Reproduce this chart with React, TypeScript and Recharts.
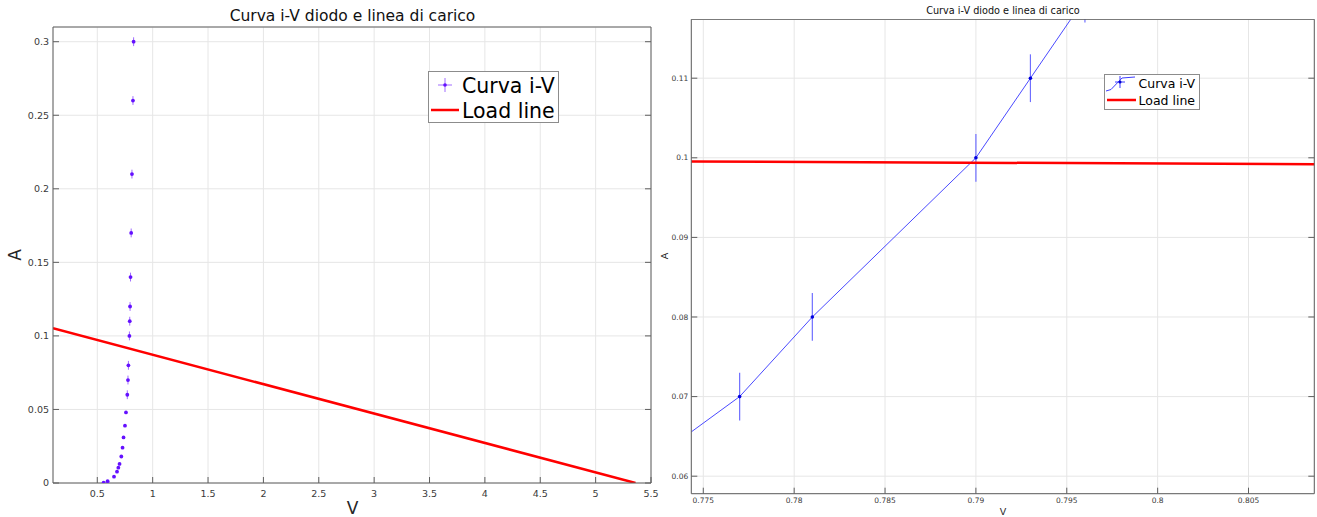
import React from "react";
import {
  ComposedChart,
  Scatter,
  Line,
  XAxis,
  YAxis,
  CartesianGrid,
  ErrorBar,
  Legend,
} from "recharts";

// measured diode points (V, A) and their current uncertainty
const ivVoltage = [
  0.557, 0.593, 0.651, 0.678, 0.69, 0.701, 0.717, 0.728, 0.737, 0.75, 0.759,
  0.771, 0.777, 0.781, 0.79, 0.793, 0.796, 0.8, 0.806, 0.813, 0.822, 0.828,
];
const ivCurrent = [
  0.0002, 0.0012, 0.0043, 0.0077, 0.0104, 0.013, 0.018, 0.024, 0.031, 0.039,
  0.048, 0.06, 0.07, 0.08, 0.1, 0.11, 0.12, 0.14, 0.17, 0.21, 0.26, 0.3,
];
const ivError = [
  0.0003, 0.0003, 0.0003, 0.0003, 0.0003, 0.0003, 0.0003, 0.0003, 0.0003,
  0.0003, 0.0003, 0.003, 0.003, 0.003, 0.003, 0.003, 0.003, 0.003, 0.003,
  0.003, 0.003, 0.003,
];

// load lines (two end points each)
const loadLeftVoltage = [0.1, 5.36];
const loadLeftCurrent = [0.1052, 0];
const loadRightVoltage = [0.7743, 0.8087];
const loadRightCurrent = [0.09954, 0.0992];

const leftXTicks = [0.5, 1, 1.5, 2, 2.5, 3, 3.5, 4, 4.5, 5, 5.5];
const leftYTicks = [0, 0.05, 0.1, 0.15, 0.2, 0.25, 0.3];
const rightXTicks = [0.775, 0.78, 0.785, 0.79, 0.795, 0.8, 0.805];
const rightYTicks = [0.06, 0.07, 0.08, 0.09, 0.1, 0.11];

const title = "Curva i-V diodo e linea di carico";
const seriesNames = ["Curva i-V", "Load line"];

const ivData = ivVoltage.map((v, i) => ({ v, a: ivCurrent[i], err: ivError[i] }));
const loadLeft = loadLeftVoltage.map((v, i) => ({ v, a: loadLeftCurrent[i] }));
const loadRight = loadRightVoltage.map((v, i) => ({ v, a: loadRightCurrent[i] }));

const FONT = "'DejaVu Sans', sans-serif";
const FRAME = "#5f5f5f";
const GRID = "#e6e6e6";
const LABEL = "#3a3a3a";
const TICK_LEN = 6;

function makeTick(side: string, fontSize: number, gap: number) {
  return (props: any) => {
    const { x, y, payload } = props;
    const label = String(payload.value);
    if (side === "bottom")
      return (
        <g>
          <line x1={x} x2={x} y1={y} y2={y - TICK_LEN} stroke={FRAME} />
          <text x={x} y={y + gap} textAnchor="middle" fontSize={fontSize} fontFamily={FONT} fill={LABEL}>
            {label}
          </text>
        </g>
      );
    if (side === "top") return <line x1={x} x2={x} y1={y} y2={y + TICK_LEN} stroke={FRAME} />;
    if (side === "left")
      return (
        <g>
          <line x1={x} x2={x + TICK_LEN} y1={y} y2={y} stroke={FRAME} />
          <text x={x - gap} y={y + fontSize * 0.36} textAnchor="end" fontSize={fontSize} fontFamily={FONT} fill={LABEL}>
            {label}
          </text>
        </g>
      );
    return <line x1={x} x2={x - TICK_LEN} y1={y} y2={y} stroke={FRAME} />;
  };
}

function LeftLegend() {
  return (
    <svg width={131} height={52} style={{ display: "block" }}>
      <rect x={0.5} y={0.5} width={130} height={51} fill="#fff" stroke="#8c8c8c" />
      <line x1={10} x2={24} y1={14} y2={14} stroke="#a06cff" />
      <line x1={17} x2={17} y1={7} y2={21} stroke="#a06cff" />
      <circle cx={17} cy={14} r={1.8} fill="#6410ff" />
      <text x={34} y={21.5} fontSize={20.5} fontFamily={FONT} fill="#000">
        {seriesNames[0]}
      </text>
      <line x1={3} x2={31} y1={39} y2={39} stroke="#ff0000" strokeWidth={2.5} />
      <text x={34} y={46.5} fontSize={20.5} fontFamily={FONT} fill="#000">
        {seriesNames[1]}
      </text>
    </svg>
  );
}

function RightLegend() {
  return (
    <svg width={96} height={36} style={{ display: "block" }}>
      <rect x={0.5} y={0.5} width={95} height={35} fill="#fff" stroke="#8c8c8c" />
      <polyline points="2,17 7,15.5 18,4 31,3" fill="none" stroke="#3c3cff" />
      <line x1={11} x2={21} y1={8} y2={8} stroke="#3c3cff" />
      <line x1={16} x2={16} y1={2} y2={14} stroke="#3c3cff" />
      <circle cx={16} cy={8} r={1.5} fill="#0000d0" />
      <text x={34.5} y={13.5} fontSize={12.5} fontFamily={FONT} fill="#000">
        {seriesNames[0]}
      </text>
      <line x1={3} x2={32} y1={26} y2={26} stroke="#ff0000" strokeWidth={2.5} />
      <text x={34.5} y={30.5} fontSize={12.5} fontFamily={FONT} fill="#000">
        {seriesNames[1]}
      </text>
    </svg>
  );
}

function LeftChart() {
  return (
    <ComposedChart width={660} height={517} margin={{ top: 26, right: 8, bottom: 33, left: 52 }}>
      <CartesianGrid xAxisId="b" yAxisId="l" stroke={GRID} />
      <XAxis xAxisId="b" type="number" dataKey="v" domain={[0.1, 5.5]} allowDataOverflow ticks={leftXTicks}
        interval={0} height={1} tickSize={0} tickMargin={0} tickLine={false} axisLine={{ stroke: FRAME }}
        tick={makeTick("bottom", 9.5, 13.5)} />
      <XAxis xAxisId="t" orientation="top" type="number" domain={[0.1, 5.5]} allowDataOverflow ticks={leftXTicks}
        interval={0} height={1} tickSize={0} tickMargin={0} tickLine={false} axisLine={{ stroke: FRAME }}
        tick={makeTick("top", 9.5, 0)} />
      <YAxis yAxisId="l" type="number" dataKey="a" domain={[0, 0.31]} allowDataOverflow ticks={leftYTicks}
        interval={0} width={1} tickSize={0} tickMargin={0} tickLine={false} axisLine={{ stroke: FRAME }}
        tick={makeTick("left", 9.5, 4)} />
      <YAxis yAxisId="r" orientation="right" type="number" domain={[0, 0.31]} allowDataOverflow ticks={leftYTicks}
        interval={0} width={1} tickSize={0} tickMargin={0} tickLine={false} axisLine={{ stroke: FRAME }}
        tick={makeTick("right", 9.5, 0)} />
      <Scatter xAxisId="b" yAxisId="l" name={seriesNames[0]} data={ivData} dataKey="a" fill="#6410ff"
        isAnimationActive={false}
        shape={(p: any) => <circle cx={p.cx} cy={p.cy} r={1.9} fill="#6410ff" />}>
        <ErrorBar dataKey="err" direction="y" width={0} stroke="#a06cff" strokeWidth={1} />
      </Scatter>
      <Line xAxisId="b" yAxisId="l" name={seriesNames[1]} data={loadLeft} dataKey="a" type="linear"
        stroke="#ff0000" strokeWidth={2.5} dot={false} activeDot={false} isAnimationActive={false} />
      <Legend layout="vertical" verticalAlign="middle" align="center" content={() => <LeftLegend />}
        wrapperStyle={{ left: 428, top: 71, width: 131, height: 52 }} />
    </ComposedChart>
  );
}

function RightChart() {
  return (
    <ComposedChart width={657} height={517} margin={{ top: 18.3, right: 1.7, bottom: 22.3, left: 30.3 }}>
      <CartesianGrid xAxisId="b" yAxisId="l" stroke={GRID} />
      <XAxis xAxisId="b" type="number" dataKey="v" domain={[0.77434, 0.80862]} allowDataOverflow ticks={rightXTicks}
        interval={0} height={1} tickSize={0} tickMargin={0} tickLine={false} axisLine={{ stroke: FRAME }}
        tick={makeTick("bottom", 7.5, 9.5)} />
      <XAxis xAxisId="t" orientation="top" type="number" domain={[0.77434, 0.80862]} allowDataOverflow ticks={rightXTicks}
        interval={0} height={1} tickSize={0} tickMargin={0} tickLine={false} axisLine={{ stroke: FRAME }}
        tick={makeTick("top", 7.5, 0)} />
      <YAxis yAxisId="l" type="number" dataKey="a" domain={[0.0578, 0.1174]} allowDataOverflow ticks={rightYTicks}
        interval={0} width={1} tickSize={0} tickMargin={0} tickLine={false} axisLine={{ stroke: FRAME }}
        tick={makeTick("left", 7.5, 3)} />
      <YAxis yAxisId="r" orientation="right" type="number" domain={[0.0578, 0.1174]} allowDataOverflow ticks={rightYTicks}
        interval={0} width={1} tickSize={0} tickMargin={0} tickLine={false} axisLine={{ stroke: FRAME }}
        tick={makeTick("right", 7.5, 0)} />
      <Line xAxisId="b" yAxisId="l" name={seriesNames[0]} data={ivData} dataKey="a" type="linear"
        stroke="#4a4aff" strokeWidth={1} activeDot={false} isAnimationActive={false}
        dot={(p: any) => <circle key={p.index} cx={p.cx} cy={p.cy} r={1.8} fill="#0000e0" />}>
        <ErrorBar dataKey="err" direction="y" width={0} stroke="#6f6fff" strokeWidth={1.2} />
      </Line>
      <Line xAxisId="b" yAxisId="l" name={seriesNames[1]} data={loadRight} dataKey="a" type="linear"
        stroke="#ff0000" strokeWidth={2.5} dot={false} activeDot={false} isAnimationActive={false} />
      <Legend layout="vertical" verticalAlign="middle" align="center" content={() => <RightLegend />}
        wrapperStyle={{ left: 443.7, top: 74, width: 96, height: 36 }} />
    </ComposedChart>
  );
}

export default function App() {
  return (
    <div style={{ position: "absolute", left: 0, top: 0, width: 1317, height: 517, background: "#fff", overflow: "hidden" }}>
      <div style={{ position: "absolute", left: 0, top: 0 }}>
        <LeftChart />
      </div>
      <div style={{ position: "absolute", left: 660, top: 0, clipPath: "inset(19px 0 0 0)" }}>
        <RightChart />
      </div>
      <svg width={1317} height={517} style={{ position: "absolute", left: 0, top: 0, pointerEvents: "none" }}>
        <text x={352.5} y={21} textAnchor="middle" fontSize={15.5} fontFamily={FONT} fill="#111">{title}</text>
        <text x={352.5} y={514} textAnchor="middle" fontSize={17} fontFamily={FONT} fill="#262626">V</text>
        <text transform="translate(21 255) rotate(-90)" textAnchor="middle" fontSize={17} fontFamily={FONT} fill="#262626">A</text>
        <text x={1003} y={14} textAnchor="middle" fontSize={9.7} fontFamily={FONT} fill="#111">{title}</text>
        <text x={1003} y={515} textAnchor="middle" fontSize={9.5} fontFamily={FONT} fill="#262626">V</text>
        <text transform="translate(668.4 256) rotate(-90)" textAnchor="middle" fontSize={9.5} fontFamily={FONT} fill="#262626">A</text>
      </svg>
    </div>
  );
}
